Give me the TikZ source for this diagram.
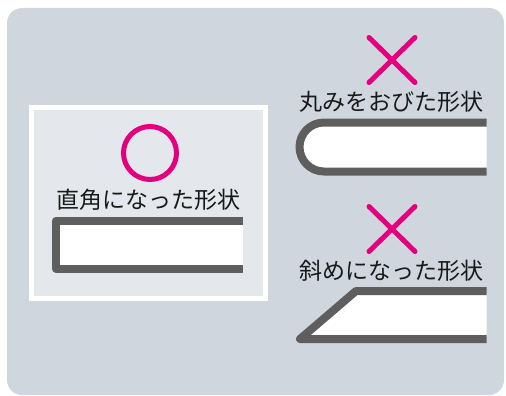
\documentclass[tikz,border=0pt]{standalone}
\usepackage{fontspec}
\usepackage{xcolor}
\usepackage{tikz}
\newfontfamily\jpfont{Noto Sans CJK JP}

\definecolor{panelgray}{HTML}{CFD6DE}
\definecolor{boxgray}{HTML}{E4E7EB}
\definecolor{edgegray}{HTML}{5E5E5E}
\definecolor{markpink}{HTML}{E2007F}

\begin{document}
\begin{tikzpicture}[x=1pt, y=-1pt,
  caption/.style={font=\jpfont\fontsize{23}{23}\selectfont, text=black!90, inner sep=0pt},
  edgeline/.style={draw=edgegray, line width=8, fill=white, line join=round},
  crossline/.style={draw=markpink, line width=5, line cap=round}]

\useasboundingbox (0,0) rectangle (506,396);
\fill[panelgray, rounded corners=15] (7,8) rectangle (504,395);

% left panel: right angle
\begin{scope}
\draw[white, line width=5, fill=boxgray] (31.5,107.5) rectangle (265.5,298.5);
\draw[markpink, line width=5] (150,153) circle (26.5);
\node[caption] (square) at (148.5,200) {直角になった形状};
\path[edgeline] (243,220.5) -- (56,220.5) -- (56,268.5) -- (243,268.5);
\end{scope}

% right: rounded
\begin{scope}
\draw[crossline] (369,37.5) -- (415,82.5);
\draw[crossline] (369,82.5) -- (415,37.5);
\node[caption] (round) at (391,102) {丸みをおびた形状};
\path[edgeline] (486.5,122.5) -- (324,122.5) arc (270:90:24.5) -- (486.5,171.5);
\end{scope}

% right: slanted
\begin{scope}
\draw[crossline] (369,206.5) -- (415,251.5);
\draw[crossline] (369,251.5) -- (415,206.5);
\node[caption] (slant) at (391,271) {斜めになった形状};
\path[edgeline] (486.5,291) -- (356,291) -- (300,339) -- (486.5,339);
\end{scope}

\end{tikzpicture}
\end{document}
